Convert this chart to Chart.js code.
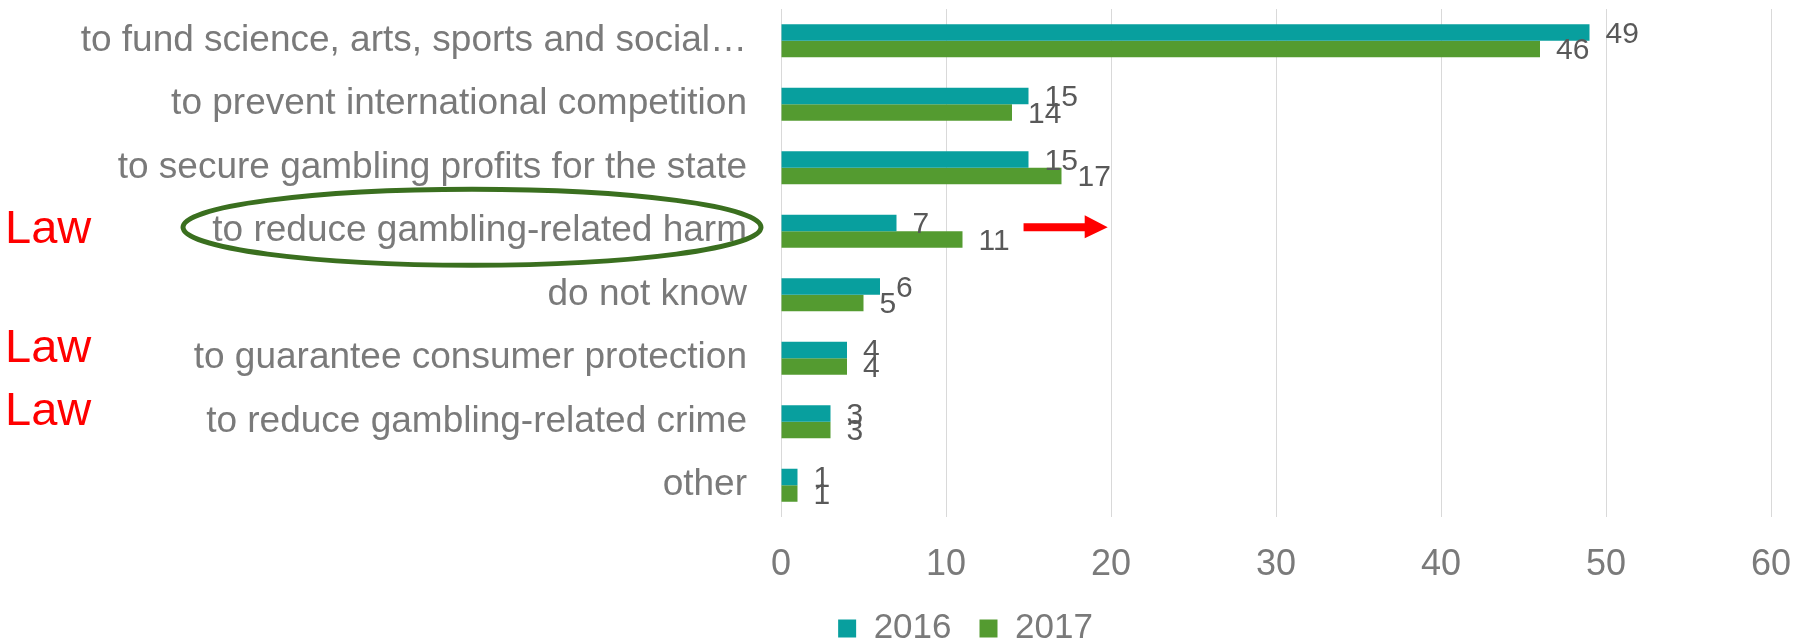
<!DOCTYPE html>
<html>
<head>
<meta charset="utf-8">
<script src="https://cdn.jsdelivr.net/npm/chart.js@4"></script>
<style>
  html, body { margin: 0; padding: 0; background: #fff; }
  #wrap { width: 1795px; height: 642px; position: relative; }
</style>
</head>
<body>
<div id="wrap"><canvas id="chart"></canvas></div>
<script>
var categories = [
  'to fund science, arts, sports and social\u2026',
  'to prevent international competition',
  'to secure gambling profits for the state',
  'to reduce gambling-related harm',
  'do not know',
  'to guarantee consumer protection',
  'to reduce gambling-related crime',
  'other'
];
var values2016 = [49, 15, 15, 7, 6, 4, 3, 1];
var values2017 = [46, 14, 17, 11, 5, 4, 3, 1];
var seriesNames = ['2016', '2017'];
var xMax = 60;
var xStep = 10;

// red "Law" notes beside these categories
var lawRows = [3, 5, 6];

var FONT = '"Liberation Sans", Arial, sans-serif';
var PAD_LEFT = 40;

// value labels at the end of each bar
var barLabels = {
  id: 'barLabels',
  afterDatasetsDraw: function(chart) {
    var ctx = chart.ctx;
    ctx.save();
    ctx.font = '30px ' + FONT;
    ctx.fillStyle = '#595959';
    ctx.textAlign = 'left';
    ctx.textBaseline = 'middle';
    chart.data.datasets.forEach(function(ds, i) {
      var meta = chart.getDatasetMeta(i);
      meta.data.forEach(function(bar, j) {
        ctx.fillText(ds.data[j], bar.x + 16, bar.y + 2);
      });
    });
    ctx.restore();
  }
};

// legend sits centred under the original chart, not the whole canvas
var legendShift = {
  id: 'legendShift',
  afterLayout: function(chart) {
    if (chart.legend) {
      chart.legend.left += 60;
      chart.legend.right += 60;
    }
  }
};

// the hand-drawn notes: Law, ellipse and arrow
var notes = {
  id: 'notes',
  afterDraw: function(chart) {
    var ctx = chart.ctx;
    var y = chart.scales.y;
    var x = chart.scales.x;
    ctx.save();

    ctx.font = '47px ' + FONT;
    ctx.fillStyle = '#ff0000';
    ctx.textAlign = 'left';
    ctx.textBaseline = 'alphabetic';
    var offs = [12, 4, 3];
    lawRows.forEach(function(r, k) {
      ctx.fillText('Law', 5, y.getPixelForValue(r) + offs[k]);
    });

    var cy = y.getPixelForValue(3) - 4;
    ctx.strokeStyle = '#3a6f1f';
    ctx.lineWidth = 5;
    ctx.beginPath();
    ctx.ellipse(472, cy, 289, 38, 0, 0, Math.PI * 2);
    ctx.stroke();

    var x0 = x.getPixelForValue(14.7);
    var x1 = x.getPixelForValue(19.8);
    ctx.fillStyle = '#ff0000';
    ctx.beginPath();
    ctx.moveTo(x0, cy - 4);
    ctx.lineTo(x1 - 23, cy - 4);
    ctx.lineTo(x1 - 23, cy - 12);
    ctx.lineTo(x1, cy);
    ctx.lineTo(x1 - 23, cy + 11);
    ctx.lineTo(x1 - 23, cy + 4);
    ctx.lineTo(x0, cy + 4);
    ctx.closePath();
    ctx.fill();

    ctx.restore();
  }
};

var ctx = document.getElementById('chart').getContext('2d');
var myChart = new Chart(ctx, {
  type: 'bar',
  data: {
    labels: categories,
    datasets: [
      {
        label: seriesNames[0],
        data: values2016,
        backgroundColor: '#089f9e',
        categoryPercentage: 0.52,
        barPercentage: 1.0
      },
      {
        label: seriesNames[1],
        data: values2017,
        backgroundColor: '#549b30',
        categoryPercentage: 0.52,
        barPercentage: 1.0
      }
    ]
  },
  options: {
    indexAxis: 'y',
    responsive: true,
    maintainAspectRatio: false,
    animation: false,
    layout: {
      padding: { left: PAD_LEFT, right: 24, top: 9, bottom: -5 }
    },
    scales: {
      x: {
        min: 0,
        max: xMax,
        ticks: {
          stepSize: xStep,
          padding: 26,
          maxRotation: 0,
          color: '#7a7a7a',
          font: { family: FONT, size: 36 }
        },
        grid: { color: '#d9d9d9', lineWidth: 1, drawTicks: false },
        border: { display: false },
        afterFit: function(scale) {
          scale.paddingLeft = 0;
          scale.paddingRight = 0;
          scale.height = 66;
        }
      },
      y: {
        ticks: {
          padding: 34,
          autoSkip: false,
          color: '#7a7a7a',
          font: { family: FONT, size: 37 }
        },
        grid: { display: false, drawTicks: false },
        border: { display: false },
        afterFit: function(scale) {
          scale.width = 781 - PAD_LEFT;
          scale.paddingTop = 0;
          scale.paddingBottom = 0;
        }
      }
    },
    plugins: {
      legend: {
        display: true,
        position: 'bottom',
        maxHeight: 64,
        labels: {
          boxWidth: 18,
          boxHeight: 18,
          padding: 28,
          color: '#7a7a7a',
          font: { family: FONT, size: 35 }
        }
      },
      tooltip: { enabled: false }
    }
  },
  plugins: [barLabels, notes, legendShift]
});
</script>
</body>
</html>
